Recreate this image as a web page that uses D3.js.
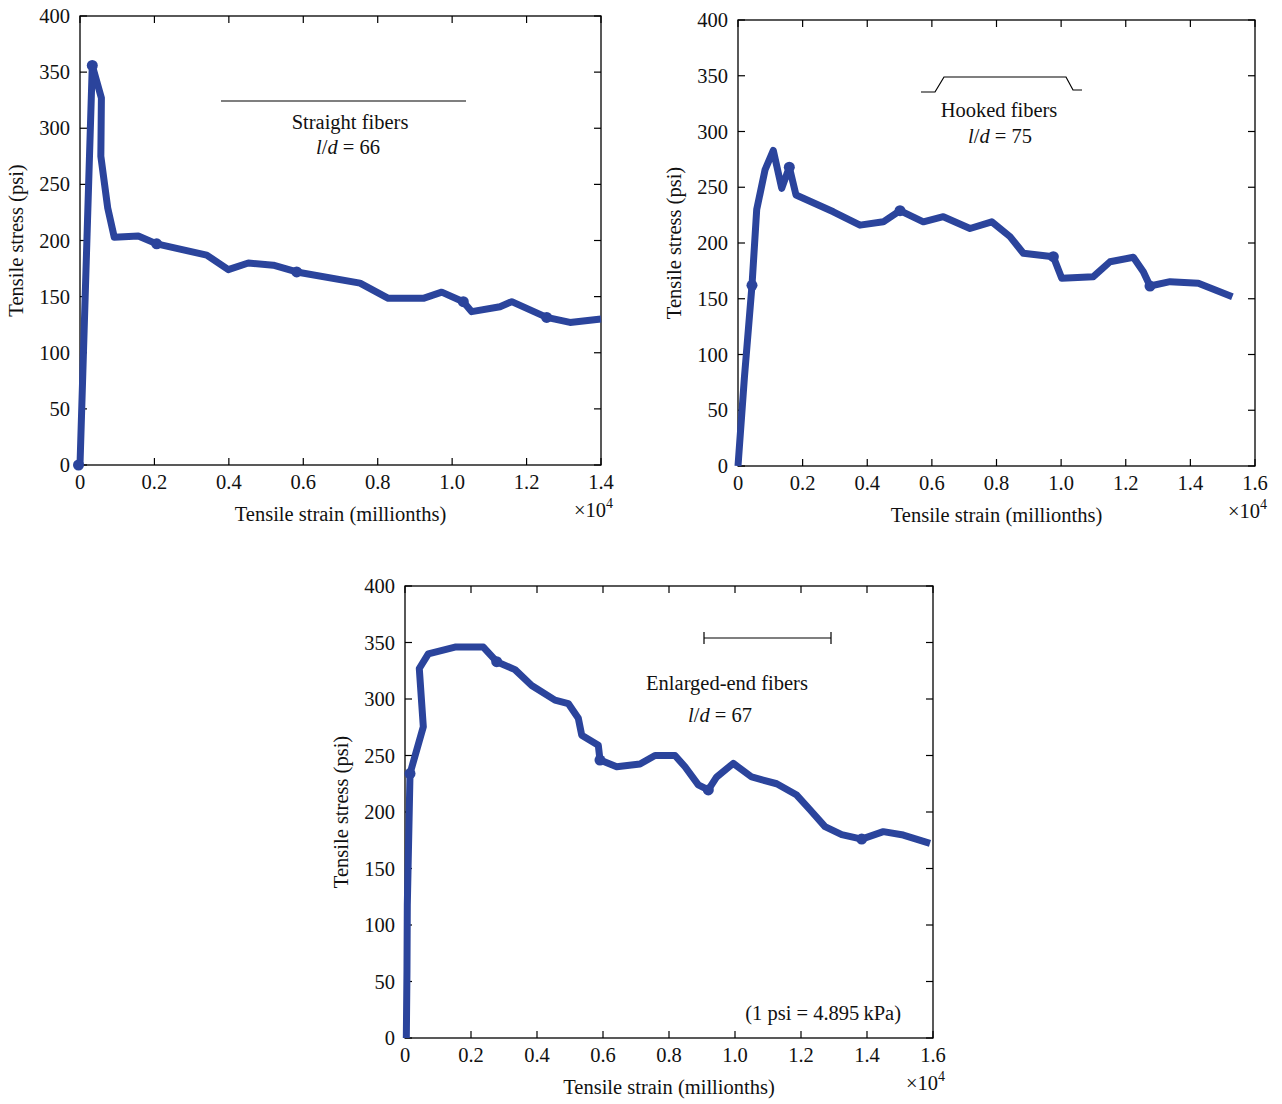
<!DOCTYPE html>
<html>
<head>
<meta charset="utf-8">
<script src="https://cdn.jsdelivr.net/npm/d3@7"></script>
<style>
  body { margin: 0; background: #fff; }
  svg text { font-family: "Liberation Serif", "DejaVu Serif", serif; fill: #111; font-size: 20.5px; }
  .frame { fill: none; stroke: #000; stroke-width: 1.3; }
  .tick { stroke: #000; stroke-width: 1.2; }
  .curve { fill: none; stroke: #2b449c; stroke-width: 7; stroke-linejoin: round; }
  .dot { fill: #2b449c; }
  .icon { fill: none; stroke: #000; stroke-width: 1.2; }
</style>
</head>
<body>
<div id="canvas-container"></div>
<script>
// values; strain in millionths, stress in psi
var strainStraight = [0, 330, 575, 560, 745, 920, 1567, 2061, 3405, 3985, 4523, 5194, 5823, 7524, 8285, 9225, 9720, 10300, 10526, 11286, 11601, 12541, 13167, 14000];
var stressStraight = [0, 356, 327, 275, 229, 203, 204, 197, 187, 174, 180, 178, 172, 162, 148.5, 148.5, 154, 145.5, 136.6, 141, 145.5, 131.5, 127, 130];
var dotStrainStraight = [-40, 330, 2061, 5823, 10300, 12541];
var dotStressStraight = [0, 356, 197, 172, 145.5, 131.5];

var strainHooked = [0, 200, 433, 579, 836, 1093, 1353, 1588, 1795, 2950, 3776, 4497, 5014, 5735, 6354, 7180, 7852, 8418, 8830, 9759, 10019, 10997, 11513, 12235, 12544, 12751, 13370, 14246, 15300];
var stressHooked = [0, 80, 162, 230, 265.5, 283, 249, 268, 243, 228, 216, 219, 229, 219, 223.6, 213, 219, 205.7, 190.8, 187.7, 168.3, 169.8, 183.2, 187.2, 174.3, 161.4, 165.3, 163.9, 151.8];
var dotStrainHooked = [433, 1588, 5014, 9759, 12751];
var dotStressHooked = [162, 268, 229, 187.7, 161.4];

var strainEnlarged = [40, 60, 70, 152, 555, 433, 706, 1515, 2373, 2779, 3333, 3839, 4545, 4948, 5252, 5355, 5858, 5909, 6415, 7121, 7576, 8182, 8485, 8888, 9191, 9445, 9948, 10506, 11264, 11870, 12273, 12727, 13233, 13839, 14494, 15100, 15909];
var stressEnlarged = [0, 60, 118, 234, 275.5, 327, 340, 346, 346, 333, 326, 312, 299, 296, 283, 268, 259, 246, 240, 242.5, 250, 250, 240, 224, 219.5, 231, 243, 231, 225, 215, 202, 187, 180, 176, 182.6, 179.6, 172.3];
var dotStrainEnlarged = [152, 2779, 5909, 9191, 13839];
var dotStressEnlarged = [234, 333, 246, 219.5, 176];

var yTicks = [0, 50, 100, 150, 200, 250, 300, 350, 400];
var xTicks14 = [0, 2000, 4000, 6000, 8000, 10000, 12000, 14000];
var xTicks16 = [0, 2000, 4000, 6000, 8000, 10000, 12000, 14000, 16000];

var xTitle = "Tensile strain (millionths)";
var yTitle = "Tensile stress (psi)";

var w = 1282, h = 1104;
var svg = d3.select("#canvas-container").append("svg")
    .attr("width", w)
    .attr("height", h);

function drawPanel(p) {
    var g = svg.append("g");
    var x = d3.scaleLinear().domain([0, p.xmax]).range([p.x0, p.x1]);
    var y = d3.scaleLinear().domain([0, 400]).range([p.y0, p.y1]);
    var tl = 7;

    // frame
    g.append("rect").attr("class", "frame")
        .attr("x", p.x0).attr("y", p.y1)
        .attr("width", p.x1 - p.x0).attr("height", p.y0 - p.y1);

    // ticks, all four sides, pointing inward
    p.xticks.forEach(function(t) {
        g.append("line").attr("class", "tick")
            .attr("x1", x(t)).attr("x2", x(t)).attr("y1", p.y0).attr("y2", p.y0 - tl);
        g.append("line").attr("class", "tick")
            .attr("x1", x(t)).attr("x2", x(t)).attr("y1", p.y1).attr("y2", p.y1 + tl);
        g.append("text")
            .attr("x", x(t)).attr("y", p.y0 + 24)
            .attr("text-anchor", "middle")
            .text(t == 0 ? "0" : d3.format(".1f")(t / 10000));
    });
    yTicks.forEach(function(t) {
        g.append("line").attr("class", "tick")
            .attr("x1", p.x0).attr("x2", p.x0 + tl).attr("y1", y(t)).attr("y2", y(t));
        g.append("line").attr("class", "tick")
            .attr("x1", p.x1).attr("x2", p.x1 - tl).attr("y1", y(t)).attr("y2", y(t));
        g.append("text")
            .attr("x", p.x0 - 10).attr("y", y(t) + 7)
            .attr("text-anchor", "end")
            .text(t);
    });

    // axis titles
    g.append("text")
        .attr("x", (p.x0 + p.x1) / 2).attr("y", p.y0 + 56)
        .attr("text-anchor", "middle")
        .text(xTitle);
    g.append("text")
        .attr("transform", "translate(" + (p.x0 - 57) + "," + ((p.y0 + p.y1) / 2) + ") rotate(-90)")
        .attr("text-anchor", "middle")
        .text(yTitle);
    var e = g.append("text")
        .attr("x", p.x1 + 12).attr("y", p.y0 + 52)
        .attr("text-anchor", "end");
    e.append("tspan").text("\u00d710");
    e.append("tspan").attr("dy", -9).style("font-size", "14px").text("4");

    // curve
    var pts = p.sx.map(function(v, i) { return [v, p.sy[i]]; });
    var line = d3.line().x(function(d) { return x(d[0]); }).y(function(d) { return y(d[1]); });
    g.append("path").attr("class", "curve").attr("d", line(pts));
    p.dx.forEach(function(v, i) {
        g.append("circle").attr("class", "dot")
            .attr("cx", x(v)).attr("cy", y(p.dy[i])).attr("r", 5.5);
    });

    // label
    g.append("text")
        .attr("x", p.lx).attr("y", p.ly)
        .attr("text-anchor", "middle")
        .text(p.name);
    var ld = g.append("text")
        .attr("x", p.lx2).attr("y", p.ly2)
        .attr("text-anchor", "middle");
    ld.append("tspan").style("font-style", "italic").text("l");
    ld.append("tspan").text("/");
    ld.append("tspan").style("font-style", "italic").text("d");
    ld.append("tspan").text(" = " + p.ld);
    return g;
}

var g1 = drawPanel({x0: 80, x1: 601, y0: 465, y1: 16, xmax: 14000, xticks: xTicks14,
    sx: strainStraight, sy: stressStraight, dx: dotStrainStraight, dy: dotStressStraight,
    name: "Straight fibers", ld: "66", lx: 350, ly: 129, lx2: 348, ly2: 154});
g1.append("line").attr("class", "icon")
    .attr("x1", 221).attr("x2", 466).attr("y1", 101).attr("y2", 101);

var g2 = drawPanel({x0: 738, x1: 1255, y0: 466, y1: 20, xmax: 16000, xticks: xTicks16,
    sx: strainHooked, sy: stressHooked, dx: dotStrainHooked, dy: dotStressHooked,
    name: "Hooked fibers", ld: "75", lx: 999, ly: 117, lx2: 1000, ly2: 143});
g2.append("path").attr("class", "icon")
    .attr("d", d3.line()([[921, 92], [935, 92], [944, 77], [1066, 77], [1073, 90], [1082, 90]]));

var g3 = drawPanel({x0: 405, x1: 933, y0: 1038, y1: 586, xmax: 16000, xticks: xTicks16,
    sx: strainEnlarged, sy: stressEnlarged, dx: dotStrainEnlarged, dy: dotStressEnlarged,
    name: "Enlarged-end fibers", ld: "67", lx: 727, ly: 690, lx2: 720, ly2: 722});
g3.append("path").attr("class", "icon")
    .attr("d", "M704,638H831M704,632V644M831,632V644");
g3.append("text")
    .attr("x", 901).attr("y", 1020)
    .attr("text-anchor", "end")
    .text("(1 psi = 4.895\u2009kPa)");
</script>
</body>
</html>
